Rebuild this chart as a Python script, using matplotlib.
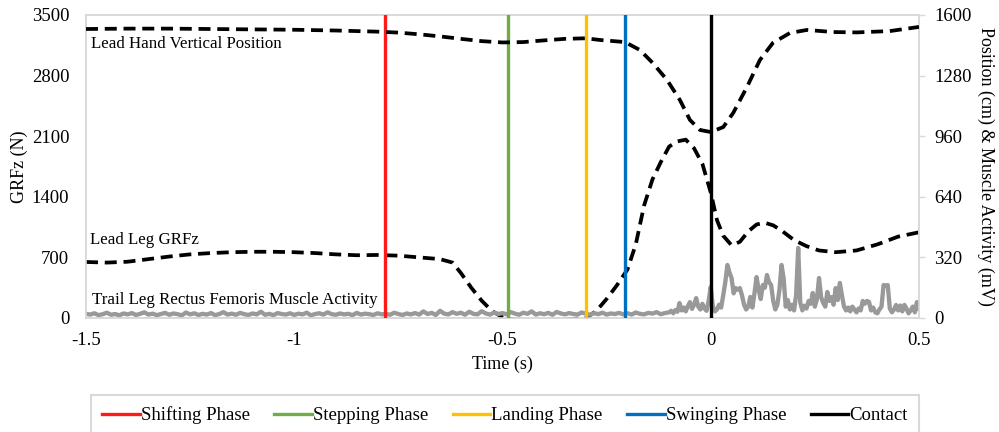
import matplotlib
matplotlib.use("Agg")
import matplotlib.pyplot as plt
import numpy as np
from matplotlib.lines import Line2D

plt.rcParams['font.family'] = ['Liberation Serif', 'DejaVu Serif']

# lead hand vertical position (cm, right axis)
hand_t = [-1.5, -1.4, -1.3, -1.2, -1.1, -1.0, -0.9, -0.8, -0.75, -0.7, -0.65, -0.6,
          -0.55, -0.5, -0.45, -0.4, -0.35, -0.3, -0.266, -0.206, -0.17, -0.139, -0.105,
          -0.074, -0.05, -0.026, 0.0, 0.03, 0.054, 0.087, 0.118, 0.149, 0.19, 0.231,
          0.294, 0.35, 0.43, 0.5]
hand_pos = [1526, 1528, 1528, 1526, 1524, 1522, 1518, 1512, 1507, 1498, 1487, 1474,
            1462, 1455, 1457, 1466, 1474, 1477, 1468, 1457, 1415, 1346, 1257,
            1151, 1046, 993, 982, 1008, 1083, 1220, 1362, 1452, 1505, 1521,
            1510, 1508, 1515, 1537]

# lead leg GRFz (N, left axis)
grf_t = [-1.5, -1.45, -1.4, -1.35, -1.3, -1.25, -1.2, -1.15, -1.1, -1.05, -1.0, -0.95,
         -0.9, -0.85, -0.8, -0.75, -0.7, -0.65, -0.62, -0.6, -0.575, -0.55, -0.525,
         -0.5, -0.475, -0.45, -0.4, -0.35, -0.3, -0.275, -0.25, -0.225, -0.2, -0.18,
         -0.16, -0.14, -0.12, -0.1, -0.08, -0.06, -0.04, -0.02, 0.0, 0.015, 0.03,
         0.05, 0.07, 0.09, 0.11, 0.13, 0.15, 0.17, 0.2, 0.23, 0.26, 0.3, 0.35, 0.4,
         0.45, 0.5]
grf = [647, 640, 650, 680, 710, 735, 750, 760, 765, 765, 760, 750,
       735, 725, 728, 720, 700, 680, 640, 520, 350, 200, 80,
       10, -15, -25, -20, -20, 0, 80, 220, 380, 560, 850,
       1300, 1600, 1800, 1980, 2040, 2060, 1960, 1780, 1450, 1130, 950,
       840, 880, 1000, 1080, 1100, 1070, 1010, 900, 830, 780, 760, 780, 850,
       940, 990]

# trail leg rectus femoris activity (mV, right axis)
emg_base = [22, 18, 25, 15, 20, 28, 17, 21, 14, 24,
            19, 26, 16, 22, 30, 18, 23, 15, 21, 27,
            17, 24, 20, 14, 29, 19, 25, 16, 22, 18,
            26, 15, 21, 31, 18, 23, 17, 27, 20, 16,
            24, 19, 33, 17, 22, 15, 26, 21, 18, 25,
            16, 23, 19, 28, 14, 21, 25, 18, 30, 20,
            17, 24, 19, 22, 15, 27, 18, 23, 20, 16,
            25, 19, 22, 17, 28, 21, 16, 24, 19, 26,
            18, 35, 21, 27, 16, 38, 23, 19, 31, 22,
            28, 17, 33, 22, 19, 36, 24, 18, 29, 21,
            26, 19, 31, 23, 17, 28, 22, 35, 18, 25,
            20, 27, 17, 32, 24, 19, 26, 21, 18, 29,
            23, 17, 26, 20, 28, 18, 24, 21, 27, 19,
            25, 18, 29, 22, 19, 27, 23, 31, 20, 26]
emg_active = [30, 38, 25, 42, 33, 79, 40, 55, 35, 62,
              84, 48, 70, 105, 60, 45, 75, 50, 38, 90,
              164, 60, 35, 45, 70, 55, 120, 190, 280, 240,
              211, 130, 158, 150, 158, 120, 70, 45, 60, 111,
              55, 130, 216, 150, 100, 174, 160, 227, 190, 174,
              90, 45, 70, 150, 280, 210, 60, 95, 45, 70,
              40, 120, 370, 80, 40, 65, 50, 90, 75, 132,
              60, 100, 211, 110, 80, 60, 137, 90, 110, 70,
              158, 95, 185, 120, 60, 40, 55, 35, 60, 45,
              30, 50, 40, 90, 75, 90, 85, 40, 55, 30,
              25, 45, 60, 174, 170, 174, 50, 30, 45, 69,
              40, 66, 35, 69, 50, 25, 40, 60, 30, 84,
              50]
emg_t = np.concatenate([np.linspace(-1.5, -0.11, len(emg_base)),
                        np.linspace(-0.1, 0.5, len(emg_active))])
emg = emg_base + emg_active

phase_names = ["Shifting Phase", "Stepping Phase", "Landing Phase", "Swinging Phase", "Contact"]
phase_times = [-0.782, -0.487, -0.30, -0.206, 0.0]
phase_colors = ["#ff1a1a", "#70ad47", "#ffc000", "#0070c0", "#000000"]

fig = plt.figure(figsize=(9.99, 4.32), dpi=100)
ax = fig.add_axes([0.0861, 0.2639, 0.8338, 0.7014])
ax2 = ax.twinx()

ax.plot(grf_t, grf, color="black", lw=2.7, dashes=(3.2, 1.8), zorder=3)
ax2.plot(emg_t, emg, color="#999999", lw=3.1, zorder=2)
ax2.plot(hand_t, hand_pos, color="black", lw=2.7, dashes=(3.2, 1.8), zorder=4)
for t, c in zip(phase_times, phase_colors):
    ax2.axvline(t, color=c, lw=2.4, zorder=3)

ax.set_xlim(-1.5, 0.5)
ax.set_ylim(0, 3500)
ax2.set_ylim(0, 1600)
ax.set_xticks([-1.5, -1, -0.5, 0, 0.5])
ax.set_xticklabels(["-1.5", "-1", "-0.5", "0", "0.5"])
ax.set_yticks(np.arange(0, 3501, 700))
ax2.set_yticks(np.arange(0, 1601, 320))

for a in (ax, ax2):
    for s in a.spines.values():
        s.set_color("#d9d9d9")
        s.set_linewidth(1.2)
ax.tick_params(axis="x", length=0, pad=10, labelsize=13.5)
ax.tick_params(axis="y", length=0, pad=12, labelsize=13.5)
ax2.tick_params(axis="y", length=4, width=1, color="#d9d9d9", pad=7, labelsize=13.5)

ax.set_xlabel("Time (s)", fontsize=13, labelpad=5)
ax.set_ylabel("GRFz (N)", fontsize=13, labelpad=3)
ax2.set_ylabel("Position (cm) & Muscle Activity (mV)", fontsize=13, rotation=270, labelpad=16)

ax.text(-1.488, 3165, "Lead Hand Vertical Position", fontsize=12.2, va="center")
ax.text(-1.49, 900, "Lead Leg GRFz", fontsize=12.2, va="center")
ax.text(-1.486, 210, "Trail Leg Rectus Femoris Muscle Activity", fontsize=12.2, va="center")

handles = [Line2D([], [], color=c, lw=2.4) for c in phase_colors]
leg = fig.legend(handles, phase_names, loc="upper left", ncol=5, mode="expand",
                 bbox_to_anchor=(91 / 999, 0, 828 / 999, 1 - 395 / 432),
                 borderaxespad=0, fontsize=13.5, handlelength=2.0, handletextpad=0.05,
                 fancybox=False, borderpad=0.6, frameon=True)
leg.get_frame().set_edgecolor("#d0d0d0")
leg.get_frame().set_linewidth(1.5)

fig.savefig("out.png", dpi=100)
